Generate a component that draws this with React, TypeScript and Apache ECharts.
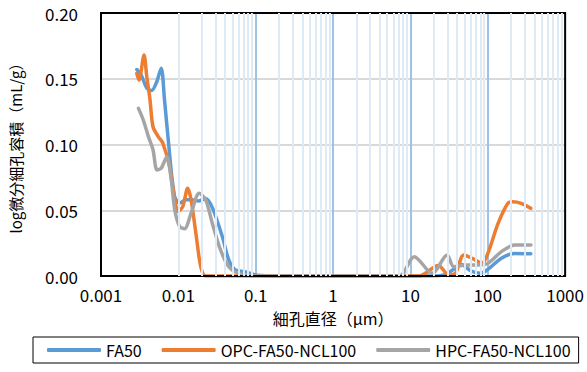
import React, { useEffect, useRef } from "react";
import * as echarts from "echarts";

const xTickLabels = ["0.001", "0.01", "0.1", "1", "10", "100", "1000"];
const yTickLabels = ["0.00", "0.05", "0.10", "0.15", "0.20"];
const seriesNames = ["FA50", "OPC-FA50-NCL100", "HPC-FA50-NCL100"];
const seriesColors = ["#5B9BD5", "#ED7D31", "#A5A5A5"];

const fa50Diameter = [0.0029, 0.0033, 0.0039, 0.0045, 0.0052, 0.006, 0.0066, 0.0075, 0.0089, 0.0104, 0.0125, 0.015, 0.018, 0.0225, 0.0275, 0.037, 0.045, 0.0545, 0.072, 0.105, 0.2, 0.5, 1, 2, 5, 10, 19, 28, 38, 45, 60, 80, 100, 150, 220, 360];
const fa50Volume = [0.157, 0.153, 0.143, 0.141, 0.147, 0.158, 0.135, 0.1, 0.061, 0.0555, 0.058, 0.058, 0.057, 0.059, 0.052, 0.03, 0.012, 0.0046, 0.0033, 0.0005, 0, 0, 0, 0, 0, 0, 0, 0.001, 0.006, 0.009, 0.004, 0.002, 0.005, 0.0135, 0.0172, 0.017];

const opcDiameter = [0.0029, 0.0031, 0.0036, 0.0039, 0.0043, 0.0047, 0.0055, 0.0063, 0.0077, 0.0089, 0.0099, 0.0114, 0.0132, 0.0146, 0.0169, 0.0195, 0.0226, 0.05, 0.1, 0.3, 1, 3, 8, 13, 23, 31, 38, 49, 65, 84, 100, 136, 182, 210, 270, 360];
const opcVolume = [0.154, 0.149, 0.168, 0.152, 0.134, 0.1135, 0.106, 0.101, 0.083, 0.06, 0.049, 0.0527, 0.0667, 0.058, 0.032, 0.007, 0, 0, 0, 0, 0, 0, 0, 0, 0.008, 0.001, 0.002, 0.016, 0.013, 0.0097, 0.017, 0.04, 0.0553, 0.0565, 0.0553, 0.0515];

const hpcDiameter = [0.00305, 0.0035, 0.0041, 0.0047, 0.0053, 0.006, 0.0071, 0.0081, 0.009, 0.0104, 0.012, 0.0146, 0.0186, 0.0226, 0.0275, 0.0351, 0.0449, 0.06, 0.1, 0.3, 1, 3, 7.2, 11.2, 19.2, 29.8, 36.4, 51, 76, 101, 150, 222, 361];
const hpcVolume = [0.1275, 0.119, 0.106, 0.096, 0.0806, 0.082, 0.0907, 0.073, 0.05, 0.0375, 0.036, 0.0477, 0.0629, 0.0578, 0.04, 0.0198, 0.007, 0.002, 0, 0, 0, 0, 0, 0.0147, 0.002, 0.016, 0.007, 0.0084, 0.0084, 0.0097, 0.0185, 0.0236, 0.0236];

const diameters = [fa50Diameter, opcDiameter, hpcDiameter];
const volumes = [fa50Volume, opcVolume, hpcVolume];

const FONT = "'Noto Sans CJK JP', 'Noto Sans', sans-serif";

// minor gridline positions (2..9 within each decade of the axis)
const minorGrid: number[] = [];
for (let d = -3; d < 3; d++) {
  for (let k = 2; k <= 9; k++) minorGrid.push(k * Math.pow(10, d));
}

export default function App() {
  const ref = useRef<HTMLDivElement>(null);
  useEffect(() => {
    if (!ref.current) return;
    const chart = echarts.init(ref.current, undefined, { renderer: "svg" });
    const dataSeries = seriesNames.map((name, i) => ({
      name,
      type: "line",
      data: diameters[i].map((x, j) => [x, volumes[i][j]]),
      smooth: 0.3,
      showSymbol: false,
      symbol: "none",
      z: 3,
      lineStyle: { color: seriesColors[i], width: 3.5, cap: "round", join: "round" },
      itemStyle: { color: seriesColors[i] },
    }));
    chart.setOption({
      animation: false,
      backgroundColor: "#fff",
      grid: {
        left: 97,
        right: 19,
        top: 13,
        bottom: 96,
        show: true,
        borderColor: "#000",
        borderWidth: 2,
        z: 5,
      },
      legend: {
        data: seriesNames,
        left: 33,
        top: 337,
        padding: [5, 8, 5, 14],
        itemGap: 20,
        itemWidth: 54,
        itemHeight: 4,
        icon: "roundRect",
        borderColor: "#000",
        borderWidth: 1,
        borderRadius: 0,
        textStyle: { fontSize: 16, color: "#000", fontFamily: FONT },
      },
      xAxis: {
        type: "log",
        logBase: 10,
        min: 0.001,
        max: 1000,
        name: "細孔直径（μm）",
        nameLocation: "middle",
        nameGap: 34,
        nameTextStyle: { fontSize: 16, color: "#000", fontFamily: FONT },
        axisLine: { show: false },
        axisTick: { show: false },
        axisLabel: {
          fontSize: 17,
          color: "#000",
          fontFamily: FONT,
          margin: 10,
          formatter: (v: number) => xTickLabels[Math.round(Math.log10(v)) + 3] ?? "",
        },
        splitLine: {
          show: true,
          showMinLine: false,
          showMaxLine: false,
          lineStyle: { color: "#9DC3E6", width: 2 },
        },
      },
      yAxis: {
        type: "value",
        min: 0,
        max: 0.2,
        interval: 0.05,
        name: "log微分細孔容積（mL/g）",
        nameLocation: "middle",
        nameGap: 78,
        nameTextStyle: { fontSize: 15, color: "#000", fontFamily: FONT },
        axisLine: { show: false },
        axisTick: { show: false },
        axisLabel: {
          fontSize: 17,
          color: "#000",
          fontFamily: FONT,
          margin: 23,
          formatter: (v: number) => yTickLabels[Math.round(v / 0.05)] ?? "",
        },
        splitLine: {
          show: true,
          showMinLine: false,
          showMaxLine: false,
          lineStyle: { color: "#D9D9D9", width: 2 },
        },
      },
      series: [
        {
          name: "minor-grid",
          type: "line",
          data: [],
          z: 1,
          silent: true,
          markLine: {
            silent: true,
            symbol: ["none", "none"],
            label: { show: false },
            lineStyle: { color: "#DEEBF7", width: 2, type: "solid" },
            data: minorGrid.map((v) => ({ xAxis: v })),
          },
        },
        ...dataSeries,
      ],
    });
    return () => chart.dispose();
  }, []);
  return (
    <div
      ref={ref}
      style={{ position: "fixed", left: 0, top: 0, width: 587, height: 372, background: "#fff" }}
    />
  );
}
